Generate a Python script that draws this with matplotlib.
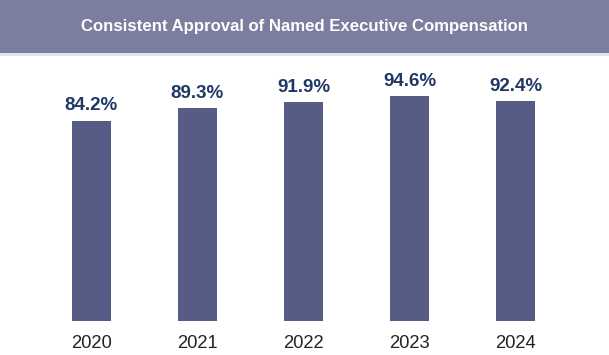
import matplotlib
matplotlib.use("Agg")
import matplotlib.pyplot as plt
from matplotlib.patches import Rectangle

plt.rcParams['font.family'] = ['Liberation Sans', 'DejaVu Sans']

years = ['2020', '2021', '2022', '2023', '2024']
approval = [84.2, 89.3, 91.9, 94.6, 92.4]

TITLE = 'Consistent Approval of Named Executive Compensation'
BAR_COLOR = '#575c87'
LABEL_COLOR = '#1f3866'
BANNER_COLOR = '#7b7e9f'

W, H = 609, 355
fig = plt.figure(figsize=(W / 100, H / 100), dpi=100)

# banner across the top
fig.patches.append(Rectangle((0, 1 - 53 / H), 1, 53 / H, transform=fig.transFigure,
                             facecolor=BANNER_COLOR, edgecolor='none', zorder=0))
fig.patches.append(Rectangle((0, 1 - 56 / H), 1, 3 / H, transform=fig.transFigure,
                             facecolor='#e4e4ea', edgecolor='none', zorder=0))
fig.text(0.5, 1 - 26 / H, TITLE, ha='center', va='center', color='white',
         fontsize=12.1, fontweight='bold')

# axes: baseline at y=320.7px, top at y=58px
bottom = 1 - 320.7 / H
top = 1 - 58 / H
ax = fig.add_axes([0, bottom, 1, top - bottom])
px_per_unit = 2.377
ax.set_ylim(0, (320.7 - 58) / px_per_unit)
spacing = 106
first = 91.5
ax.set_xlim(-first / spacing, (W - first) / spacing)

x = list(range(len(years)))
ax.bar(x, approval, width=39 / spacing, color=BAR_COLOR)
for xi, v in zip(x, approval):
    ax.annotate(f'{v}%', (xi, v), xytext=(0, 4.5), textcoords='offset points',
                ha='center', va='bottom', color=LABEL_COLOR,
                fontsize=13.5, fontweight='bold')

ax.set_xticks(x)
ax.set_xticklabels(years, fontsize=13.2, color='#222222')
ax.tick_params(axis='x', length=0, pad=10.5)
ax.set_yticks([])
for s in ax.spines.values():
    s.set_visible(False)
ax.patch.set_alpha(0)

fig.savefig('out.png', dpi=100)
